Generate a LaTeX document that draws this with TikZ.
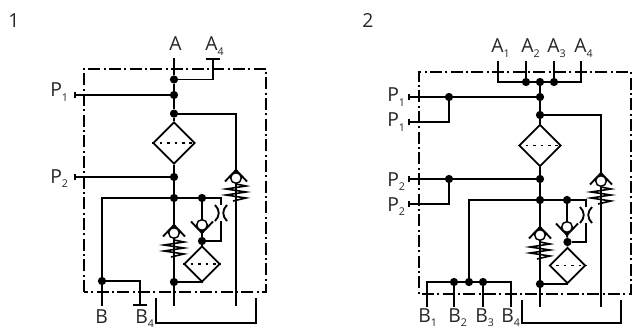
\documentclass[tikz,border=0pt]{standalone}
\usepackage{fontspec}
\setmainfont{Open Sans}
\usetikzlibrary{arrows.meta,shapes.geometric}

\tikzset{
  pipe/.style={line width=1.4pt,line join=miter},
  boundary/.style={line width=1.2pt,dash pattern=on 9pt off 2.5pt on 1.5pt off 2.5pt},
  junction/.style={circle,fill=black,inner sep=0pt,minimum size=6.2pt},
  ball/.style={circle,draw,fill=white,line width=1.1pt,inner sep=0pt,minimum size=8pt},
  filterbox/.style={diamond,draw,line width=1.3pt,inner sep=0pt,aspect=1},
  port/.style={anchor=base west,inner sep=0pt,font=\fontsize{14.5}{15}\selectfont,text=black!85},
  stub/.style={pipe,{Bar[width=#1,length=1pt]}-},
  stub/.default=5pt
}
\newcommand{\idx}[1]{\raisebox{-3.2pt}{\fontsize{8}{8}\selectfont #1}}
% name, x, y, +1 wings down / -1 wings up
\newcommand{\checkvalve}[4]{
  \node[ball] (#1) at (#2,#3) {};
  \draw[pipe] ({#2-11},{#3+3.5*#4}) -- ({#2},{#3-8*#4}) -- ({#2+11},{#3+3.5*#4});
}
\newcommand{\spring}[2]{
  \draw[line width=1.2pt] (#1,#2) -- ({#1+10},{#2+2}) -- ({#1-10},{#2+5}) -- ({#1+10},{#2+8})
    -- ({#1-10},{#2+11}) -- ({#1+10},{#2+14}) -- ({#1-3},{#2+17});
}
\newcommand{\throttle}[2]{
  \draw[pipe] ({#1-6},{#2-8}) .. controls ({#1-1},{#2-3}) and ({#1-1},{#2+3}) .. ({#1-6},{#2+8});
  \draw[pipe] ({#1+6},{#2-8}) .. controls ({#1+1},{#2-3}) and ({#1+1},{#2+3}) .. ({#1+6},{#2+8});
}
\newcommand{\filter}[4]{
  \node[filterbox,minimum size=#4] (#1) at (#2,#3) {};
  \draw[line width=1.2pt,dash pattern=on 2pt off 3.6pt] (#1.west) -- (#1.east);
}

\begin{document}
\begin{tikzpicture}[x=0.75pt,y=-0.75pt]
  \useasboundingbox (0,0) rectangle (632,328);

  % Picture 1
  \node[port] (numa) at (8,28) {1};
  \draw[boundary] (84,292) rectangle (266,69);

  % Ports
  \node[port] (lA) at (169,51) {A};
  \node[port] (lAd) at (205,51) {A\idx{4}};
  \node[port] (lPa) at (50,97) {P\idx{1}};
  \node[port] (lPb) at (50,183) {P\idx{2}};
  \node[port] (lB) at (95,323) {B};
  \node[port] (lBd) at (135,323) {B\idx{4}};

  \coordinate (tA) at (174,58);
  \coordinate (tAd) at (213,58);
  \coordinate (tPa) at (74,95);
  \coordinate (tPb) at (74,177);
  \coordinate (tB) at (102,306);
  \coordinate (tBd) at (140,306);
  \coordinate (tC) at (174,306);
  \coordinate (tD) at (236,306);

  % Junctions
  \node[junction] (ja) at (174,79.5) {};
  \node[junction] (jb) at (174,95) {};
  \node[junction] (jc) at (174,113.6) {};
  \node[junction] (jd) at (174,177) {};
  \node[junction] (je) at (174,198) {};
  \node[junction] (jf) at (202,198) {};
  \node[junction] (jg) at (202,241) {};
  \node[junction] (jh) at (174,282) {};
  \node[junction] (ji) at (102,281) {};

  % Filters, valves
  \filter{fa}{174}{143}{31.5pt}
  \filter{fb}{202}{264}{27pt}
  \checkvalve{va}{236}{178}{1}
  \checkvalve{vb}{174}{233}{1}
  \checkvalve{vc}{202}{225}{-1}
  \spring{236}{184}
  \spring{174}{240}
  \throttle{221}{213}

  % Pipes
  \draw[pipe] (tA) -- (ja) -- (jb) -- (jc) -- (fa.north);
  \draw[pipe] (fa.south) -- (jd) -- (je) -- (vb.north);
  \draw[pipe] (vb.south) -- (jh) -- (tC);
  \draw[stub=10pt] (tAd) |- (ja);
  \draw[stub] (tPa) -- (jb);
  \draw[stub] (tPb) -- (jd);
  \draw[pipe] (jc) -| (va.north);
  \draw[pipe] (va.south) -- (tD);
  \draw[pipe] (je) -| (ji);
  \draw[pipe] (ji) -- (tB);
  \draw[stub=10pt] (tBd) |- (ji);
  \draw[pipe] (je) -- (jf) -- (vc.north);
  \draw[pipe] (vc.south) -- (jg) -- (fb.north);
  \draw[pipe] (jf) -- (221,198) -- (221,205);
  \draw[pipe] (221,221) -- (221,241) -- (jg);
  \draw[pipe] (fb.south) -- (202,282) -- (jh);
  \draw[pipe] (156,298) -- (156,323) -- (256,323) -- (256,298);

  % Picture 2
  \node[port] (numb) at (362,28) {2};
  \draw[boundary] (422,294) -- (631,294) -- (631,72) -- (419,72) -- (419,294);

  % Ports
  \node[port] (lAa) at (491,53) {A\idx{1}};
  \node[port] (lAb) at (521,53) {A\idx{2}};
  \node[port] (lAc) at (547,53) {A\idx{3}};
  \node[port] (lAe) at (574,53) {A\idx{4}};
  \node[port] (lPc) at (387,102) {P\idx{1}};
  \node[port] (lPe) at (387,127) {P\idx{1}};
  \node[port] (lPf) at (387,186) {P\idx{2}};
  \node[port] (lPg) at (387,211) {P\idx{2}};
  \node[port] (lBa) at (418,322) {B\idx{1}};
  \node[port] (lBb) at (448,322) {B\idx{2}};
  \node[port] (lBc) at (475,322) {B\idx{3}};
  \node[port] (lBe) at (501,322) {B\idx{4}};

  \coordinate (sAa) at (498,61);
  \coordinate (sAb) at (526,61);
  \coordinate (sAc) at (554,61);
  \coordinate (sAe) at (581,61);
  \coordinate (sPc) at (408,97);
  \coordinate (sPe) at (408,122);
  \coordinate (sPf) at (408,179);
  \coordinate (sPg) at (408,204);
  \coordinate (sBa) at (427,307);
  \coordinate (sBb) at (454,307);
  \coordinate (sBc) at (483,307);
  \coordinate (sBe) at (511,307);
  \coordinate (sC) at (540,307);
  \coordinate (sD) at (601,307);

  % Junctions
  \node[junction] (ka) at (526,82) {};
  \node[junction] (kb) at (540,82) {};
  \node[junction] (kc) at (554,82) {};
  \node[junction] (kd) at (540,97) {};
  \node[junction] (ke) at (449,97) {};
  \node[junction] (kf) at (540,115) {};
  \node[junction] (kg) at (540,179) {};
  \node[junction] (kh) at (449,179) {};
  \node[junction] (ki) at (540,200) {};
  \node[junction] (kj) at (567,200) {};
  \node[junction] (kk) at (567.5,242) {};
  \node[junction] (kl) at (540,284) {};
  \node[junction] (km) at (454,282) {};
  \node[junction] (kn) at (469,282) {};
  \node[junction] (ko) at (483,282) {};

  % Filters, valves
  \filter{fc}{540}{145.5}{31.5pt}
  \filter{fd}{567.5}{265.5}{27pt}
  \checkvalve{vd}{601}{181}{1}
  \checkvalve{ve}{540}{235}{1}
  \checkvalve{vf}{567}{227}{-1}
  \spring{601}{187}
  \spring{540}{242}
  \throttle{586}{215}

  % Pipes
  \draw[pipe] (sAa) |- (ka);
  \draw[pipe] (sAb) -- (ka) -- (kb) -- (kc) -- (sAc);
  \draw[pipe] (sAe) |- (kc);
  \draw[pipe] (kb) -- (kd) -- (kf) -- (fc.north);
  \draw[pipe] (fc.south) -- (kg) -- (ki) -- (ve.north);
  \draw[pipe] (ve.south) -- (kl) -- (sC);
  \draw[stub] (sPc) -- (ke);
  \draw[pipe] (ke) -- (kd);
  \draw[stub] (sPe) -| (ke);
  \draw[stub] (sPf) -- (kh);
  \draw[pipe] (kh) -- (kg);
  \draw[stub] (sPg) -| (kh);
  \draw[pipe] (kf) -| (vd.north);
  \draw[pipe] (vd.south) -- (sD);
  \draw[pipe] (ki) -| (kn);
  \draw[pipe] (sBa) |- (km);
  \draw[pipe] (km) -- (kn) -- (ko);
  \draw[pipe] (sBe) |- (ko);
  \draw[pipe] (km) -- (sBb);
  \draw[pipe] (ko) -- (sBc);
  \draw[pipe] (ki) -- (kj) -- (vf.north);
  \draw[pipe] (vf.south) -- (kk) -- (fd.north);
  \draw[pipe] (kj) -- (586,200) -- (586,207);
  \draw[pipe] (586,223) -- (586,242) -- (kk);
  \draw[pipe] (fd.south) -- (567.5,284) -- (kl);
  \draw[pipe] (522,300) -- (522,323) -- (621,323) -- (621,300);
\end{tikzpicture}
\end{document}
